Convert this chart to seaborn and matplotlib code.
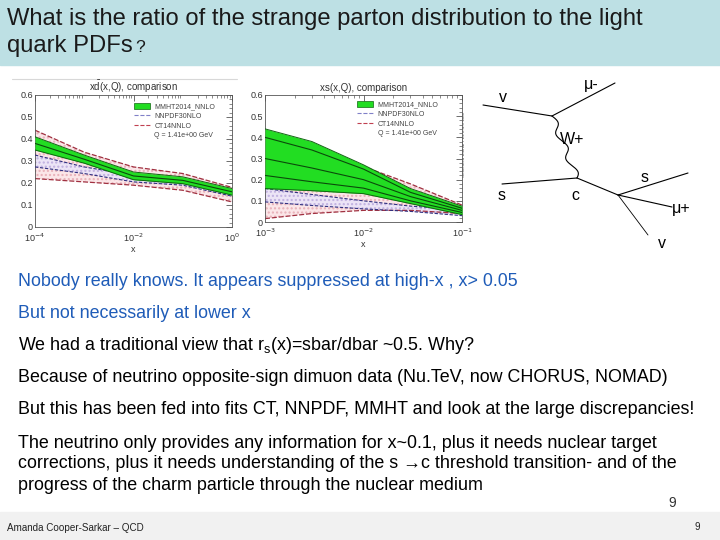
import numpy as np
import pandas as pd
import matplotlib
matplotlib.use("Agg")
import matplotlib.pyplot as plt
import seaborn as sns
from matplotlib.patches import Patch, Rectangle
from matplotlib.lines import Line2D

# ---------------- data ----------------
title_lines = ["What is the ratio of the strange parton distribution to the light",
               "quark PDFs"]

# left panel: x dbar(x,Q)
x_left = [1e-4, 1e-3, 1e-2, 1e-1, 1.0]
mmht_d_hi = [0.41, 0.327, 0.25, 0.228, 0.175]
mmht_d_lo = [0.35, 0.29, 0.215, 0.197, 0.145]
mmht_d_c = [0.38, 0.308, 0.232, 0.212, 0.16]
nnpdf_d_hi = [0.327, 0.273, 0.235, 0.21, 0.165]
nnpdf_d_lo = [0.273, 0.243, 0.205, 0.19, 0.14]
ct14_d_hi = [0.44, 0.34, 0.273, 0.243, 0.18]
ct14_d_lo = [0.22, 0.205, 0.19, 0.167, 0.114]

# right panel: x s(x,Q)
x_right = [1e-3, 3e-3, 1e-2, 3e-2, 1e-1]
mmht_s_hi = [0.44, 0.38, 0.27, 0.158, 0.075]
mmht_s_lo = [0.158, 0.148, 0.134, 0.087, 0.035]
mmht_s_c = [0.30, 0.255, 0.2, 0.12, 0.055]
mmht_s_in1 = [0.40, 0.34, 0.25, 0.14, 0.065]
mmht_s_in2 = [0.22, 0.19, 0.16, 0.10, 0.045]
nnpdf_s_hi = [0.158, 0.13, 0.1, 0.075, 0.058]
nnpdf_s_lo = [0.095, 0.078, 0.062, 0.05, 0.03]
ct14_s_hi = [0.30, 0.28, 0.262, 0.18, 0.08]
ct14_s_lo = [0.016, 0.04, 0.055, 0.055, 0.04]

legend_labels = ["MMHT2014_NNLO", "NNPDF30NLO", "CT14NNLO"]
q_label = "Q = 1.41e+00 GeV"

blue = "#1f5cb8"
body = [
    ("Nobody really knows. It appears suppressed at high-x , x> 0.05", 281, blue),
    ("But not necessarily at lower x", 313, blue),
    ("We had a traditional view that r$_\\mathregular{s}$(x)=sbar/dbar ~0.5. Why?", 345, "black"),
    ("Because of neutrino opposite-sign dimuon data (Nu.TeV, now CHORUS, NOMAD)", 377, "black"),
    ("But this has been fed into fits CT, NNPDF, MMHT and look at the large discrepancies!", 410, "black"),
    ("The neutrino only provides any information for x~0.1, plus it needs nuclear target", 443, "black"),
    ("corrections, plus it needs understanding of the s \u2192c threshold transition- and of the", 464, "black"),
    ("progress of the charm particle through the nuclear medium", 486, "black"),
]

# ---------------- figure ----------------
sns.set_theme(style="white")
plt.rcParams['font.family'] = ['Liberation Sans', 'DejaVu Sans']
W, H = 720, 540
fig = plt.figure(figsize=(7.2, 5.4), dpi=100)
bg = fig.add_axes([0, 0, 1, 1])
bg.set_xlim(0, W)
bg.set_ylim(H, 0)
bg.axis("off")
bg.add_patch(Rectangle((0, 0), W, 65, color="#bde0e4", zorder=0))
bg.add_patch(Rectangle((0, 512), W, 28, color="#f1f1f1", zorder=0))
bg.plot([12, 237], [79, 79], color="#d8d8d8", lw=0.8)

bg.text(7, 19, title_lines[0], fontsize=17.1, color="#1a1a1a", va="center")
bg.text(7, 46, title_lines[1], fontsize=17.1, color="#1a1a1a", va="center")
bg.text(135, 48, "?", fontsize=12.5, color="#1a1a1a", va="center")

for txt, y, col in body:
    bg.text(18, y, txt, fontsize=12.9, color=col, va="center")
bg.text(672, 503, "9", fontsize=10, color="#333333", va="center", ha="center")
bg.text(7, 528, "Amanda Cooper-Sarkar \u2013 QCD", fontsize=7.1, color="#222222", va="center")
bg.text(697, 527, "9", fontsize=7, color="#222222", va="center", ha="center")

# Feynman diagram
lk = dict(color="black", lw=0.8)
bg.plot([483, 552], [105, 116], **lk)
bg.plot([552, 615], [116, 83], **lk)
t = np.linspace(0, 1, 200)
wx = 552 + (577 - 552) * t + 3.5 * np.sin(t * 2 * np.pi * 2.5)
wy = 116 + (178 - 116) * t
bg.plot(wx, wy, **lk)
bg.plot([502, 577], [184, 178], **lk)
bg.plot([577, 618], [178, 195], **lk)
bg.plot([618, 688], [195, 173], **lk)
bg.plot([618, 672], [195, 207], **lk)
bg.plot([618, 648], [195, 235], color="black", lw=0.6)
fk = dict(fontsize=11.5, color="black", ha="center", va="center")
bg.text(503, 97, "v", **fk)
bg.text(591, 85, "\u03bc-", **fk)
bg.text(572, 139, "W+", **fk)
bg.text(502, 196, "s", **fk)
bg.text(575, 196, "c", **fk)
bg.text(645, 178, "s", **fk)
bg.text(681, 208, "\u03bc+", **fk)
bg.text(662, 243, "v", **fk)


def panel(rect, xs, mh, ml, mcs, nh, nl, ch, cl, title, xlim, xticks, xticklabels,
          leg_anchor):
    ax = fig.add_axes(rect)
    ax.set_facecolor("white")
    ax.set_xscale("log")
    ax.fill_between(xs, cl, ch, facecolor="#fbe6e8", edgecolor="#e8b0b8",
                    hatch="....", lw=0, zorder=1)
    ax.fill_between(xs, nl, nh, facecolor="#ece4f6", edgecolor="#c0b0e0",
                    hatch="....", lw=0, zorder=1.5)
    series = [("ch", ch, "#a03040", (4, 1.5), 0.9, 2.5),
              ("cl", cl, "#a03040", (4, 1.5), 0.9, 2.5),
              ("nh", nh, "#303080", (3, 1.5), 0.8, 2.6),
              ("nl", nl, "#303080", (3, 1.5), 0.8, 2.6),
              ("mh", mh, "#116611", None, 0.7, 4),
              ("ml", ml, "#116611", None, 0.7, 4)]
    for i, mc in enumerate(mcs):
        series.append(("mc%d" % i, mc, "#0b4a0b", None, 0.8, 4))
    for g, vals, c, d, lw, z in series:
        df = pd.DataFrame({"x": xs, "y": vals})
        sns.lineplot(data=df, x="x", y="y", ax=ax, color=c, lw=lw, zorder=z,
                     legend=False)
        if d is not None:
            ax.lines[-1].set_dashes(d)
    ax.fill_between(xs, ml, mh, facecolor="#22dd22", lw=0, zorder=3)
    ax.set_xlim(*xlim)
    ax.set_ylim(0, 0.6)
    ax.set_xticks(xticks)
    ax.set_xticklabels(xticklabels)
    ax.set_yticks([0, 0.1, 0.2, 0.3, 0.4, 0.5, 0.6])
    ax.set_yticklabels(["0", "0.1", "0.2", "0.3", "0.4", "0.5", "0.6"])
    ax.set_yticks(np.arange(0, 0.6, 0.02), minor=True)
    ax.tick_params(axis="both", which="both", direction="in", top=True, right=True,
                   labelsize=6.5, colors="#333333")
    ax.tick_params(axis="x", pad=3.5)
    ax.tick_params(axis="y", pad=1.5)
    ax.tick_params(which="major", length=4, width=0.5)
    ax.tick_params(which="minor", length=2, width=0.4)
    for s in ax.spines.values():
        s.set_color("#555555")
        s.set_linewidth(0.6)
    ax.set_xlabel("x", fontsize=6.5, color="#333333", labelpad=0.5)
    ax.set_ylabel("")
    ax.set_title(title, fontsize=7, color="#333333", pad=3)
    handles = [Patch(facecolor="#22dd22", edgecolor="#116611", lw=0.5),
               Line2D([0], [0], color="#8080c8", lw=0.8, ls="--"),
               Line2D([0], [0], color="#c04050", lw=0.8, ls="--"),
               Line2D([0], [0], color="none")]
    ax.legend(handles, legend_labels + [q_label], loc="upper left",
              bbox_to_anchor=leg_anchor, fontsize=5, frameon=False,
              handlelength=2.3, handleheight=0.9, handletextpad=0.6,
              labelspacing=0.35, borderaxespad=0, labelcolor="#444444")
    return ax


panel([35 / W, 1 - 227 / H, 197 / W, 132 / H], x_left,
      mmht_d_hi, mmht_d_lo, [mmht_d_c], nnpdf_d_hi, nnpdf_d_lo, ct14_d_hi, ct14_d_lo,
      "x$\\bar{\\mathregular{d}}$(x,Q), comparison", (1e-4, 1.0), [1e-4, 1e-2, 1.0],
      ["10$^{-4}$", "10$^{-2}$", "10$^{0}$"], (0.49, 0.96))

panel([265 / W, 1 - 222 / H, 197 / W, 127 / H], x_right,
      mmht_s_hi, mmht_s_lo, [mmht_s_c, mmht_s_in1, mmht_s_in2], nnpdf_s_hi, nnpdf_s_lo,
      ct14_s_hi, ct14_s_lo,
      "xs(x,Q), comparison", (1e-3, 1e-1), [1e-3, 1e-2, 1e-1],
      ["10$^{-3}$", "10$^{-2}$", "10$^{-1}$"], (0.455, 0.975))

bg.text(464, 145, "Generated with APFEL 2.4.0 Web", rotation=90, fontsize=3.2,
        color="#555555", ha="center", va="center")

fig.savefig("out.png", dpi=100)
